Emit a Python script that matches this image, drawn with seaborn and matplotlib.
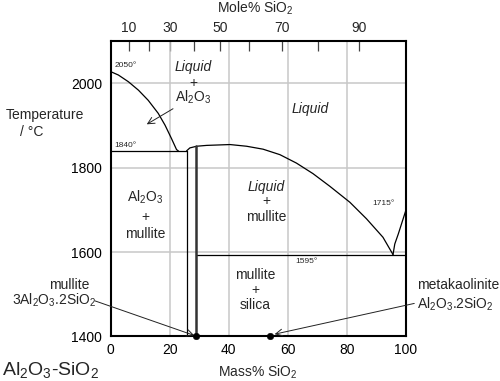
import numpy as np
import pandas as pd
import matplotlib
matplotlib.use("Agg")
import matplotlib.pyplot as plt
import seaborn as sns

# ---- data ----
mass_ticks = [0, 20, 40, 60, 80, 100]
temp_ticks = [1400, 1600, 1800, 2000]
mole_ticks = [10, 20, 30, 40, 50, 60, 70, 80, 90]
mole_labels = ["10", "", "30", "", "50", "", "70", "", "90"]

al2o3_liq_x = [0, 2.6, 6.0, 9.4, 12.7, 16.1, 18.4, 20.6, 22.3, 22.9]
al2o3_liq_T = [2028, 2020, 2004, 1984, 1960, 1929, 1901, 1869, 1843, 1840]

mullite_liq_x = [25.7, 26.8, 29.1, 32.5, 40.4, 46.0, 51.6, 57.3, 62.9, 68.5, 74.2, 81.0, 86.6, 92.2, 95.6]
mullite_liq_T = [1840, 1847, 1851, 1853, 1855, 1851, 1844, 1831, 1811, 1786, 1756, 1718, 1679, 1635, 1594]

silica_liq_x = [95.6, 96.2, 97.4, 100.0]
silica_liq_T = [1594, 1619, 1643, 1700]

eut1_x = [0, 26.0]
eut1_T = [1840, 1840]
eut2_x = [28.9, 100]
eut2_T = [1593, 1593]

mullite_left_x = [26.0, 26.0]
mullite_left_T = [1400, 1840]
mullite_right_x = [28.9, 28.9]
mullite_right_T = [1400, 1851]

dots_x = [28.9, 54.1]
dots_T = [1400, 1400]

# ---- style ----
sns.set_theme(style="white")
plt.rcParams["font.family"] = ["Liberation Sans", "DejaVu Sans"]
plt.rcParams["mathtext.fontset"] = "custom"
plt.rcParams["mathtext.rm"] = "Liberation Sans"
plt.rcParams["mathtext.it"] = "Liberation Sans:italic"
plt.rcParams["mathtext.default"] = "rm"

W, H = 500, 381
fig = plt.figure(figsize=(5.0, 3.81), dpi=100)
ax = fig.add_axes([110.7 / W, 1 - 336.3 / H, (406 - 110.7) / W, (336.3 - 41.3) / H])

def px(x, y):
    return x / W, 1 - y / H

line_kw = dict(color="black", linewidth=0.9, estimator=None, sort=False, legend=False)
for xs, ts in [(al2o3_liq_x, al2o3_liq_T), (mullite_liq_x, mullite_liq_T),
               (silica_liq_x, silica_liq_T), (eut1_x, eut1_T), (eut2_x, eut2_T),
               (mullite_left_x, mullite_left_T)]:
    sns.lineplot(x=xs, y=ts, ax=ax, **line_kw)
sns.lineplot(x=mullite_right_x, y=mullite_right_T, ax=ax, color="#333333",
             linewidth=1.8, estimator=None, sort=False, legend=False)
sns.scatterplot(x=dots_x, y=dots_T, ax=ax, color="black", s=22, zorder=5,
                edgecolor="black", clip_on=False, legend=False)

ax.set_xlim(0, 100)
ax.set_ylim(1400, 2100)
ax.set_xticks(mass_ticks)
ax.set_yticks(temp_ticks)
ax.tick_params(axis="both", length=0, labelsize=10, colors="black")
ax.tick_params(axis="x", pad=5)
ax.tick_params(axis="y", pad=6)
ax.grid(True, color="#c8c8c8", linewidth=1.1)
ax.set_axisbelow(True)
for s in ax.spines.values():
    s.set_color("black")
    s.set_linewidth(1.5)
ax.set_xlabel("")
ax.set_ylabel("")

# top mole% axis
M_SI, M_AL = 60.08, 101.96
def mass_to_mole(w):
    w = np.asarray(w, dtype=float)
    with np.errstate(divide="ignore", invalid="ignore"):
        a = w / M_SI
        b = (100 - w) / M_AL
        return 100 * a / (a + b)
def mole_to_mass(m):
    m = np.asarray(m, dtype=float)
    with np.errstate(divide="ignore", invalid="ignore"):
        a = m * M_SI
        b = (100 - m) * M_AL
        return 100 * a / (a + b)

sec = ax.secondary_xaxis("top", functions=(mass_to_mole, mole_to_mass))
sec.set_xticks(mole_ticks)
sec.set_xticklabels(mole_labels)
sec.tick_params(direction="in", length=7, width=0.9, color="#444444", labelsize=10, pad=4.5)
sec.spines["top"].set_visible(False)

# axis titles
fig.text(*px(258, 377), "Mass% SiO$_2$", ha="center", va="baseline", fontsize=10)
fig.text(*px(255, 12.5), "Mole% SiO$_2$", ha="center", va="baseline", fontsize=10)
fig.text(*px(44.7, 115), "Temperature", ha="center", va="center", fontsize=10)
fig.text(*px(31.7, 131.7), "/ °C", ha="center", va="center", fontsize=10)
fig.text(*px(2, 375), "Al$_2$O$_3$-SiO$_2$", ha="left", va="baseline", fontsize=14)

# region labels
def stack(x, ys, texts, italic_first=False):
    for i, (y, t) in enumerate(zip(ys, texts)):
        ax.text(x, y, t, ha="center", va="center", fontsize=10,
                style="italic" if (italic_first and i == 0) else "normal")

stack(28.0, [2040, 2002, 1968], ["Liquid", "+", "Al$_2$O$_3$"], italic_first=True)
ax.text(67.6, 1940, "Liquid", ha="center", va="center", fontsize=10, style="italic")
stack(52.8, [1755, 1720, 1682], ["Liquid", "+", "mullite"], italic_first=True)
stack(11.6, [1730, 1684, 1643], ["Al$_2$O$_3$", "+", "mullite"])
stack(49.0, [1546, 1510, 1475], ["mullite", "+", "silica"])

# temperature labels
ax.text(1.3, 2043, "2050°", fontsize=6, ha="left", va="center")
ax.text(1.2, 1853, "1840°", fontsize=6, ha="left", va="center")
ax.text(92.4, 1715, "1715°", fontsize=6, ha="center", va="center")
ax.text(66.4, 1577, "1595°", fontsize=6, ha="center", va="center")

# arrows
arrow = dict(arrowstyle="->", color="#222222", lw=0.7, shrinkA=0, shrinkB=0)
ax.annotate("", xy=(12.2, 1903), xytext=(21.1, 1940), arrowprops=arrow)
ax.annotate("", xy=(28.3, 1402), xytext=(-5.3, 1484), arrowprops=arrow,
            annotation_clip=False)
ax.annotate("", xy=(55.5, 1405), xytext=(102.8, 1478), arrowprops=arrow,
            annotation_clip=False)

fig.text(*px(69.7, 289), "mullite", ha="center", va="baseline", fontsize=10)
fig.text(*px(53.8, 305), "3Al$_2$O$_3$.2SiO$_2$", ha="center", va="baseline", fontsize=10)
fig.text(*px(416.7, 289), "metakaolinite", ha="left", va="baseline", fontsize=10)
fig.text(*px(416.7, 309), "Al$_2$O$_3$.2SiO$_2$", ha="left", va="baseline", fontsize=10)

fig.savefig("out.png", dpi=100)
